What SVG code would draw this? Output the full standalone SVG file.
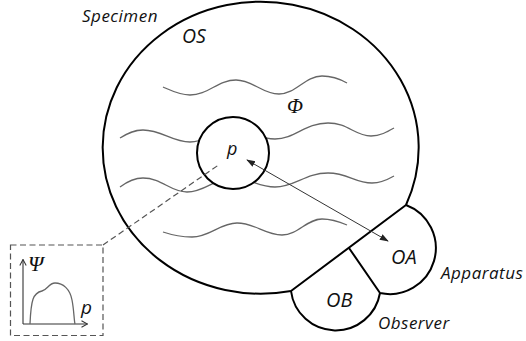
<svg xmlns="http://www.w3.org/2000/svg" width="526" height="341" viewBox="0 0 526 341">
<style>
.outline{fill:none;stroke:#000;stroke-width:2;stroke-linejoin:round}
.wave{fill:none;stroke:#666;stroke-width:1.3}
.lbl{font-family:"Open Sans","Liberation Sans",sans-serif;font-style:italic;fill:#111}
.word{font-size:17px;letter-spacing:0.5px}
.greek{font-family:"Liberation Serif","DejaVu Serif",serif;font-style:italic;fill:#111}
.dash{fill:none;stroke:#555;stroke-width:1.2;stroke-dasharray:6 3.5}
.axis{fill:none;stroke:#333;stroke-width:1.1}
</style>
<defs>
<marker id="ah" viewBox="0 0 10 10" refX="9" refY="5" markerWidth="9" markerHeight="9" markerUnits="userSpaceOnUse" orient="auto-start-reverse">
<path d="M0,1.5 L10,5 L0,8.5 z" fill="#222"/>
</marker>
<marker id="va" viewBox="0 0 10 10" refX="9.5" refY="5" markerWidth="8" markerHeight="8" markerUnits="userSpaceOnUse" orient="auto">
<path d="M2,1 L9.5,5 L2,9" fill="none" stroke="#333" stroke-width="1.3"/>
</marker>
</defs>
<rect width="526" height="341" fill="#fff"/>
<g id="specimen">
<path class="outline" d="M291,291 A158,146 0 1 1 406,205"/>
<g id="waves">
<path class="wave" d="M163,87 C172,91 180,95 190,95 C208,95 218,80 236,80 C253,80 262,94 279,94 C296,94 305,76 322,76 C332,76 340,79 347,83"/>
<path class="wave" d="M120,138 C128,133 134,130 143,130 C162,130 172,142 190,142 C207,142 215,130 232,130 C250,130 258,139 275,139 C295,139 305,123 328,123 C348,123 355,136 371,136 C380,136 387,132 394,128"/>
<path class="wave" d="M120,187 C128,181 134,178 143,178 C162,178 170,192 187,192 C205,192 215,178 232,178 C250,178 258,187 275,187 C295,187 305,173 328,173 C348,173 355,183 372,183 C381,183 387,180 394,176"/>
<path class="wave" d="M163,232 C172,235 182,237 192,237 C210,237 220,223 237,223 C255,223 265,235 282,235 C298,235 307,219 322,219 C332,219 340,222 347,225"/>
</g>
<text class="lbl word" x="82" y="22">Specimen</text>
<text class="lbl" x="182" y="43" font-size="19.5">OS</text>
<text class="greek" x="287" y="113" font-size="21">Φ</text>
</g>
<g id="p">
<circle cx="233" cy="153" r="36" fill="#fff" stroke="#000" stroke-width="2"/>
<text class="lbl" x="227" y="155" font-size="18">p</text>
</g>
<g id="OA">
<path class="outline" d="M291,291 L406,205 A46,46 0 0 1 380,293 L349,248"/>
<text class="lbl" x="391" y="264" font-size="20">OA</text>
<text class="lbl word" x="441" y="279">Apparatus</text>
</g>
<g id="OB">
<path class="outline" d="M291,291 A45,45 0 0 0 380,293"/>
<text class="lbl" x="326" y="307" font-size="20">OB</text>
<text class="lbl word" x="378" y="329">Observer</text>
</g>
<g id="inset">
<rect class="dash" x="10.5" y="245" width="92.5" height="90.5"/>
<path class="axis" d="M23,324 L23,259.5" marker-end="url(#va)"/>
<path class="axis" d="M23,324 L87.5,324" marker-end="url(#va)"/>
<path fill="none" stroke="#666" stroke-width="1.3" d="M30,324 C31,300 33,293 42,291 C47,290 49,283 55,283 C63,283 70,289 72,300 C74,310 74,320 75,324"/>
<text class="greek" x="28" y="271" font-size="22">Ψ</text>
<text class="lbl" x="81" y="314" font-size="19">p</text>
</g>
<g id="connectors">
<path class="dash" d="M103,245 L220,164"/>
<path d="M247,160 L388,241" fill="none" stroke="#333" stroke-width="1" marker-start="url(#ah)" marker-end="url(#ah)"/>
</g>
</svg>
